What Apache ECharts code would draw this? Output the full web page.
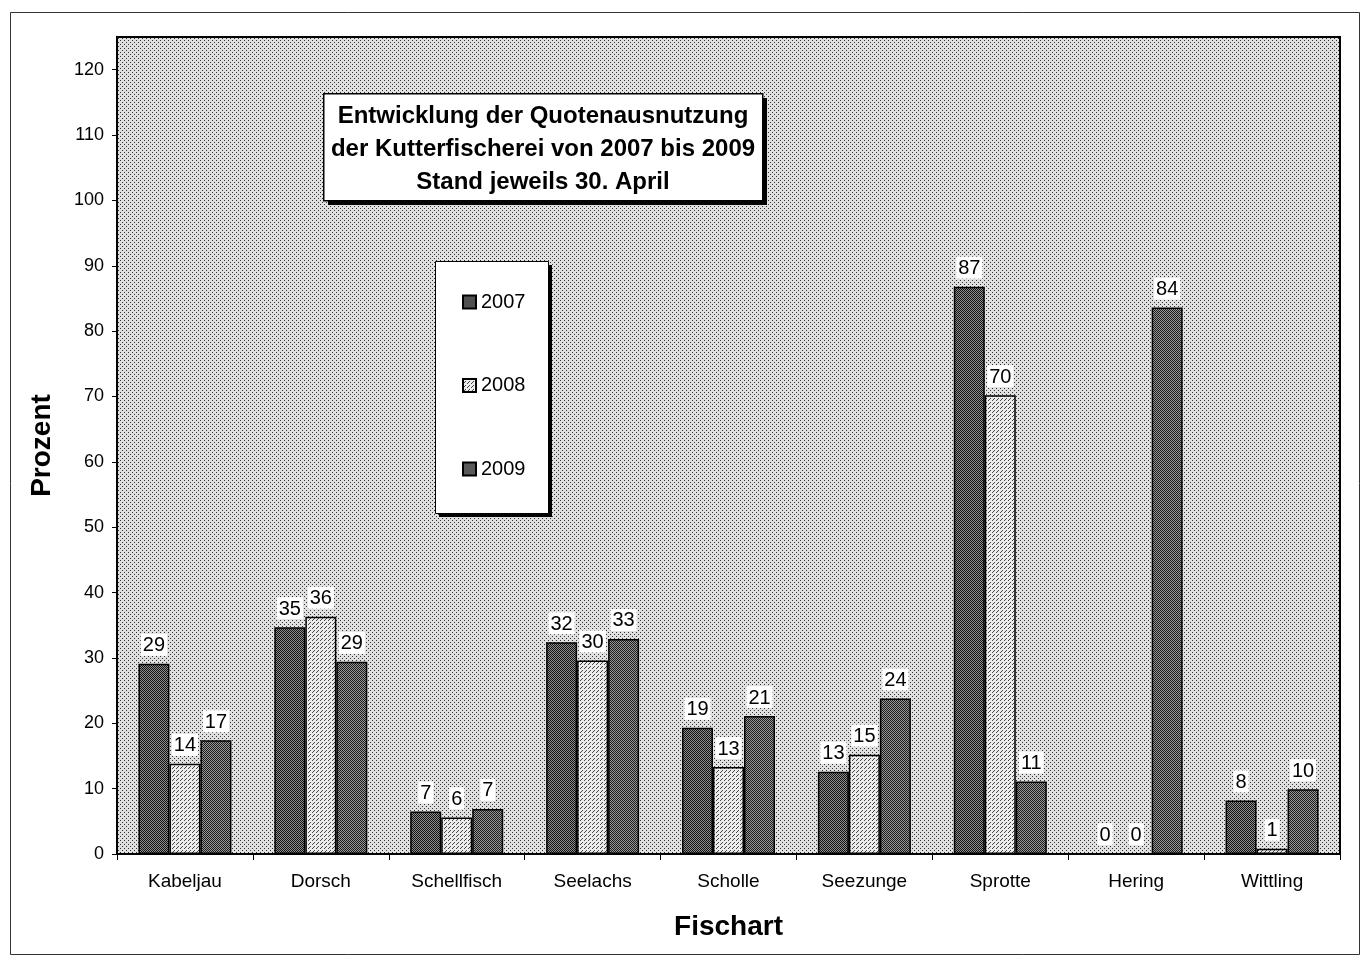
<!DOCTYPE html>
<html>
<head>
<meta charset="utf-8">
<script src="https://cdn.jsdelivr.net/npm/echarts@6/dist/echarts.min.js"></script>
<style>
  html, body { margin: 0; padding: 0; background: #fff; }
  #chart { width: 1365px; height: 962px; }
</style>
</head>
<body>
<div id="chart"></div>
<script>
// Daten (Quotenausnutzung in Prozent, Stand 30. April)
var categories = ['Kabeljau', 'Dorsch', 'Schellfisch', 'Seelachs', 'Scholle', 'Seezunge', 'Sprotte', 'Hering', 'Wittling'];
var years = ['2007', '2008', '2009'];
var values2007 = [29.1, 34.7, 6.5, 32.4, 19.3, 12.6, 86.8, 0, 8.2];
var values2008 = [13.8, 36.3, 5.6, 29.6, 13.3, 15.2, 70.2, 0, 0.8];
var values2009 = [17.4, 29.4, 6.9, 32.9, 21.1, 23.8, 11.1, 83.6, 9.9];
var yTicks = [0, 10, 20, 30, 40, 50, 60, 70, 80, 90, 100, 110, 120];

// kleine Rastermuster wie im Original
function makePattern(size, bg, fg, dots) {
  var c = document.createElement('canvas');
  c.width = size; c.height = size;
  var ctx = c.getContext('2d');
  ctx.fillStyle = bg;
  ctx.fillRect(0, 0, size, size);
  ctx.fillStyle = fg;
  for (var i = 0; i < dots.length; i++) {
    ctx.fillRect(dots[i][0], dots[i][1], 1, 1);
  }
  return { image: c, repeat: 'repeat' };
}
var bgPattern = makePattern(4, '#e0e0e0', '#333', [[0, 0], [2, 2]]);
var darkPattern = makePattern(2, '#8c8c8c', '#141414', [[0, 0], [1, 1]]);
var lightPattern = makePattern(4, '#ececec', '#444', [[0, 0], [2, 2], [1, 3]]);
var dark2Pattern = makePattern(2, '#969696', '#1e1e1e', [[0, 0], [1, 1]]);

var colors = [darkPattern, lightPattern, dark2Pattern];
var seriesData = [values2007, values2008, values2009];

var series = [];
for (var i = 0; i < years.length; i++) {
  series.push({
    name: years[i],
    type: 'bar',
    data: seriesData[i],
    barWidth: 31,
    barGap: '0%',
    itemStyle: { color: colors[i], borderColor: '#000', borderWidth: 1.5 },
    label: {
      show: true,
      position: 'top',
      distance: 8,
      color: '#000',
      fontFamily: 'Liberation Sans, Arial',
      fontSize: 20,
      backgroundColor: '#fff',
      padding: [2, 2, 0, 2],
      formatter: function (p) { return Math.round(p.value); }
    }
  });
}

var chart = echarts.init(document.getElementById('chart'));
chart.setOption({
  animation: false,
  backgroundColor: '#fff',
  textStyle: { fontFamily: 'Liberation Sans, Arial' },
  grid: {
    left: 117, right: 25, top: 37, bottom: 108,
    show: true,
    backgroundColor: bgPattern,
    borderColor: '#000',
    borderWidth: 2
  },
  legend: {
    orient: 'vertical',
    left: 457, top: 287,
    icon: 'rect',
    itemWidth: 13, itemHeight: 13,
    itemGap: 63.5,
    data: years,
    textStyle: { fontSize: 20, color: '#000', fontFamily: 'Liberation Sans, Arial' },
    z: 20
  },
  xAxis: {
    type: 'category',
    data: categories,
    name: 'Fischart',
    nameLocation: 'middle',
    nameGap: 59,
    nameTextStyle: { fontSize: 28, fontWeight: 'bold', color: '#000' },
    axisLine: { show: true, lineStyle: { color: '#000', width: 2 } },
    axisTick: { show: true, inside: false, length: 6, lineStyle: { color: '#000' } },
    axisLabel: { color: '#000', fontSize: 19, margin: 18 }
  },
  yAxis: {
    type: 'value',
    min: 0, max: 125, interval: 10,
    name: 'Prozent',
    nameLocation: 'middle',
    nameGap: 61,
    nameTextStyle: { fontSize: 28, fontWeight: 'bold', color: '#000' },
    axisLine: { show: true, lineStyle: { color: '#000', width: 2 } },
    axisTick: { show: true, inside: false, length: 5, lineStyle: { color: '#000' } },
    axisLabel: {
      color: '#000', fontSize: 18, margin: 13, showMaxLabel: false,
      formatter: function (v) { return yTicks.indexOf(v) >= 0 ? v : ''; }
    },
    splitLine: { show: false }
  },
  graphic: [
    // äußerer Rahmen
    { type: 'rect', left: 8, top: 10, shape: { width: 1349, height: 942 }, style: { fill: 'none', stroke: '#333', lineWidth: 1 }, z: -10 },
    // Titelkasten mit Schatten
    { type: 'rect', left: 328, top: 98, shape: { width: 439, height: 107 }, style: { fill: '#000' }, z: 10 },
    { type: 'rect', left: 323, top: 93, shape: { width: 439, height: 107 }, style: { fill: '#fff', stroke: '#000', lineWidth: 1.5 }, z: 11 },
    {
      type: 'text', x: 543, y: 100, z: 12,
      style: {
        text: 'Entwicklung der Quotenausnutzung\nder Kutterfischerei von 2007 bis 2009\nStand jeweils 30. April',
        textAlign: 'center', fill: '#000', lineHeight: 33,
        font: 'bold 24px "Liberation Sans", Arial'
      }
    },
    // Legendenkasten mit Schatten
    { type: 'rect', left: 439, top: 265, shape: { width: 113, height: 252 }, style: { fill: '#000' }, z: 10 },
    { type: 'rect', left: 435, top: 261, shape: { width: 113, height: 252 }, style: { fill: '#fff', stroke: '#000', lineWidth: 1 }, z: 11 }
  ],
  series: series
});
</script>
</body>
</html>
